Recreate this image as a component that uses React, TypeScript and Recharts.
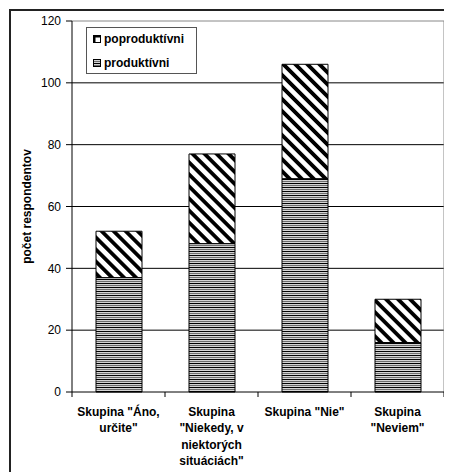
import React from 'react';
import { BarChart, Bar, XAxis, YAxis, CartesianGrid, Legend } from 'recharts';

const categories = ['Skupina "Áno, určite"', 'Skupina "Niekedy, v niektorých situáciách"', 'Skupina "Nie"', 'Skupina "Neviem"'];
const categoryLines = [
  ['Skupina "Áno,', 'určite"'],
  ['Skupina', '"Niekedy, v', 'niektorých', 'situáciách"'],
  ['Skupina "Nie"'],
  ['Skupina', '"Neviem"'],
];
const produktivni = [37, 48, 69, 16];
const poproduktivni = [15, 29, 37, 14];
const yTicks = [0, 20, 40, 60, 80, 100, 120];
const innerGrid = [20, 40, 60, 80, 100];

const data = categories.map((name, i) => ({
  name,
  produktivni: produktivni[i],
  poproduktivni: poproduktivni[i],
}));

const FONT = '"Liberation Sans", Arial, sans-serif';
const BAND = 93;

const XTick = (props: any) => {
  const { x, y, payload, index } = props;
  const i = typeof index === 'number' ? index : categories.indexOf(payload.value);
  const lines = categoryLines[i] || [String(payload.value)];
  const half = BAND / 2;
  return (
    <g>
      <line x1={x - half} x2={x - half} y1={y} y2={y + 5} stroke="#000" strokeWidth={1} />
      {i === categories.length - 1 && (
        <line x1={x + half} x2={x + half} y1={y} y2={y + 5} stroke="#000" strokeWidth={1} />
      )}
      <text x={x} y={y + 24} textAnchor="middle" fontFamily={FONT} fontSize={12} fontWeight="bold" fill="#000">
        {lines.map((l, k) => (
          <tspan key={k} x={x} dy={k === 0 ? 0 : 16.4}>{l}</tspan>
        ))}
      </text>
    </g>
  );
};

const LegendBox = () => (
  <div
    style={{
      width: 111,
      height: 47,
      boxSizing: 'border-box',
      border: '1px solid #555',
      background: '#fff',
      fontFamily: FONT,
      fontWeight: 'bold',
      fontSize: 12,
      color: '#000',
      position: 'relative',
    }}
  >
    <div style={{ position: 'absolute', left: 6, top: 4, display: 'flex', alignItems: 'center', height: 14 }}>
      <svg width={8} height={8} style={{ marginRight: 3 }}>
        <rect x={0.5} y={0.5} width={7} height={7} fill="#fff" stroke="#000" strokeWidth={1} />
        <rect x={0.5} y={0.5} width={7} height={2} fill="#000" />
        <rect x={0.5} y={0.5} width={2} height={7} fill="#000" />
      </svg>
      <span>poproduktívni</span>
    </div>
    <div style={{ position: 'absolute', left: 6, top: 28, display: 'flex', alignItems: 'center', height: 14 }}>
      <svg width={8} height={8} style={{ marginRight: 3 }}>
        <rect x={0.5} y={0.5} width={7} height={7} fill="url(#hstripes)" stroke="#000" strokeWidth={1} />
      </svg>
      <span>produktívni</span>
    </div>
  </div>
);

export default function App() {
  return (
    <div style={{ position: 'relative' }}>
      <svg width={0} height={0} style={{ position: 'absolute' }}>
        <defs>
          <pattern id="hstripes" patternUnits="userSpaceOnUse" width={4} height={4}>
            <rect x={0} y={0} width={4} height={4} fill="#d4d4d4" />
            <rect x={0} y={0} width={4} height={1} fill="#000" />
            <rect x={0} y={2} width={4} height={1} fill="#6e6e6e" />
          </pattern>
          <pattern id="dstripes" patternUnits="userSpaceOnUse" width={8.5} height={10} patternTransform="rotate(-45)">
            <rect x={0} y={0} width={8.5} height={10} fill="#fff" />
            <rect x={0} y={0} width={3.8} height={10} fill="#000" />
          </pattern>
        </defs>
      </svg>
      <div
        style={{
          marginLeft: 1,
          marginTop: 1,
          borderLeft: '2px solid #222',
          borderTop: '2px solid #222',
          width: 441,
          height: 461,
        }}
      >
        <BarChart
          width={441}
          height={461}
          data={data}
          margin={{ top: 10, right: 8, left: 0, bottom: 0 }}
          barSize={46}
        >
          <CartesianGrid vertical={false} stroke="#000" horizontalValues={innerGrid} />
          <CartesianGrid
            stroke="#888"
            horizontalValues={[120]}
            verticalCoordinatesGenerator={({ offset }: any) => [offset.left + offset.width]}
          />
          <XAxis
            dataKey="name"
            axisLine={{ stroke: '#000', strokeWidth: 1 }}
            tickLine={false}
            tickSize={0}
            tickMargin={0}
            height={80}
            interval={0}
            tick={<XTick />}
          />
          <YAxis
            domain={[0, 120]}
            ticks={yTicks}
            width={61}
            axisLine={{ stroke: '#000', strokeWidth: 1 }}
            tickLine={{ stroke: '#000' }}
            tickSize={6}
            tickMargin={5}
            tick={{ fontFamily: FONT, fontSize: 12, fill: '#000' }}
            label={{
              value: 'počet respondentov',
              angle: -90,
              position: 'insideLeft',
              offset: 16,
              style: { textAnchor: 'middle', fontFamily: FONT, fontSize: 12, fontWeight: 'bold', fill: '#000' },
            }}
          />
          <Legend
            layout="vertical"
            align="center"
            verticalAlign="middle"
            content={<LegendBox />}
            wrapperStyle={{ left: 75, top: 16, width: 111, height: 47 }}
          />
          <Bar dataKey="produktivni" stackId="a" fill="url(#hstripes)" stroke="#000" strokeWidth={1} isAnimationActive={false} />
          <Bar dataKey="poproduktivni" stackId="a" fill="url(#dstripes)" stroke="#000" strokeWidth={1} isAnimationActive={false} />
        </BarChart>
      </div>
    </div>
  );
}
